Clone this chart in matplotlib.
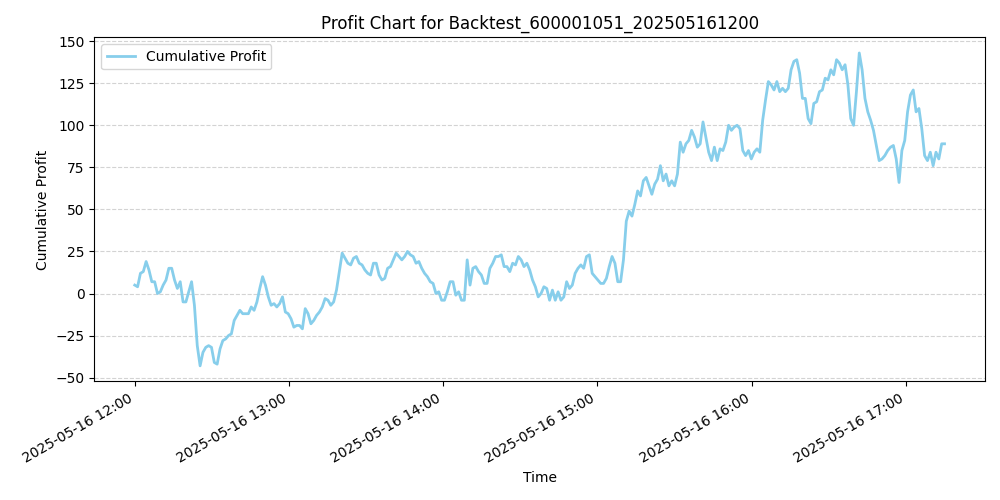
import numpy as np
import pandas as pd
import matplotlib.pyplot as plt
import matplotlib.dates as mdates

# cumulative profit, sampled evenly from 12:00 to 17:15
profit = [5, 4, 12, 13, 19, 14, 7, 7, 0, 1, 5, 8, 15, 15, 8, 3, 7, -5, -5, 1, 7, -7,
          -31, -43, -35, -32, -31, -32, -41, -42, -33, -28, -27, -25, -24, -16, -13,
          -10, -12, -12, -12, -8, -10, -5, 3, 10, 5, -2, -7, -6, -8, -6, -2, -11, -12,
          -15, -20, -19, -19, -21, -9, -12, -18, -16, -13, -11, -8, -3, -4, -7, -5, 2,
          13, 24, 21, 18, 17, 21, 22, 18, 17, 14, 12, 11, 18, 18, 11, 8, 9, 15, 16, 20,
          24, 22, 20, 22, 25, 23, 22, 18, 19, 15, 12, 10, 7, 6, 0, 1, -4, -4, 1, 7, 7,
          -1, 1, -4, -4, 20, 5, 15, 16, 13, 11, 6, 6, 15, 18, 22, 22, 23, 16, 16, 13,
          18, 17, 22, 20, 16, 18, 14, 8, 4, -2, 0, 4, 3, -4, 2, -4, 1, -4, -2, 7, 3, 5,
          12, 15, 17, 15, 22, 23, 12, 10, 8, 6, 6, 9, 16, 22, 18, 7, 7, 20, 43, 49, 46,
          53, 61, 58, 67, 69, 64, 59, 65, 68, 76, 67, 71, 64, 67, 64, 71, 90, 84, 89,
          91, 97, 93, 87, 89, 102, 93, 84, 79, 87, 79, 86, 85, 90, 100, 97, 99, 100, 98,
          85, 82, 85, 80, 84, 86, 84, 103, 115, 126, 124, 121, 126, 120, 122, 120, 122,
          133, 138, 139, 131, 116, 116, 104, 101, 113, 114, 120, 121, 128, 127, 133,
          130, 139, 137, 133, 136, 124, 104, 100, 120, 143, 133, 116, 108, 103, 97, 88,
          79, 80, 82, 85, 87, 88, 80, 66, 85, 91, 108, 118, 121, 108, 110, 98, 82, 79,
          84, 76, 84, 80, 89, 89]

start_time = "2025-05-16 12:00"
end_time = "2025-05-16 17:15"
times = pd.date_range(start_time, end_time, periods=len(profit))

fig, ax = plt.subplots(figsize=(10, 5), dpi=100)
ax.plot(times, profit, color='skyblue', linewidth=2, label='Cumulative Profit')
ax.set_title('Profit Chart for Backtest_600001051_202505161200')
ax.set_xlabel('Time')
ax.set_ylabel('Cumulative Profit')
ax.grid(True, axis='y', color='lightgrey', linestyle='--')
ax.xaxis.set_major_locator(mdates.HourLocator())
ax.xaxis.set_major_formatter(mdates.DateFormatter('%Y-%m-%d %H:%M'))
ax.set_yticks([-50, -25, 0, 25, 50, 75, 100, 125, 150])
ax.legend(loc='upper left')
fig.autofmt_xdate()
fig.tight_layout()
fig.savefig('out.png')
